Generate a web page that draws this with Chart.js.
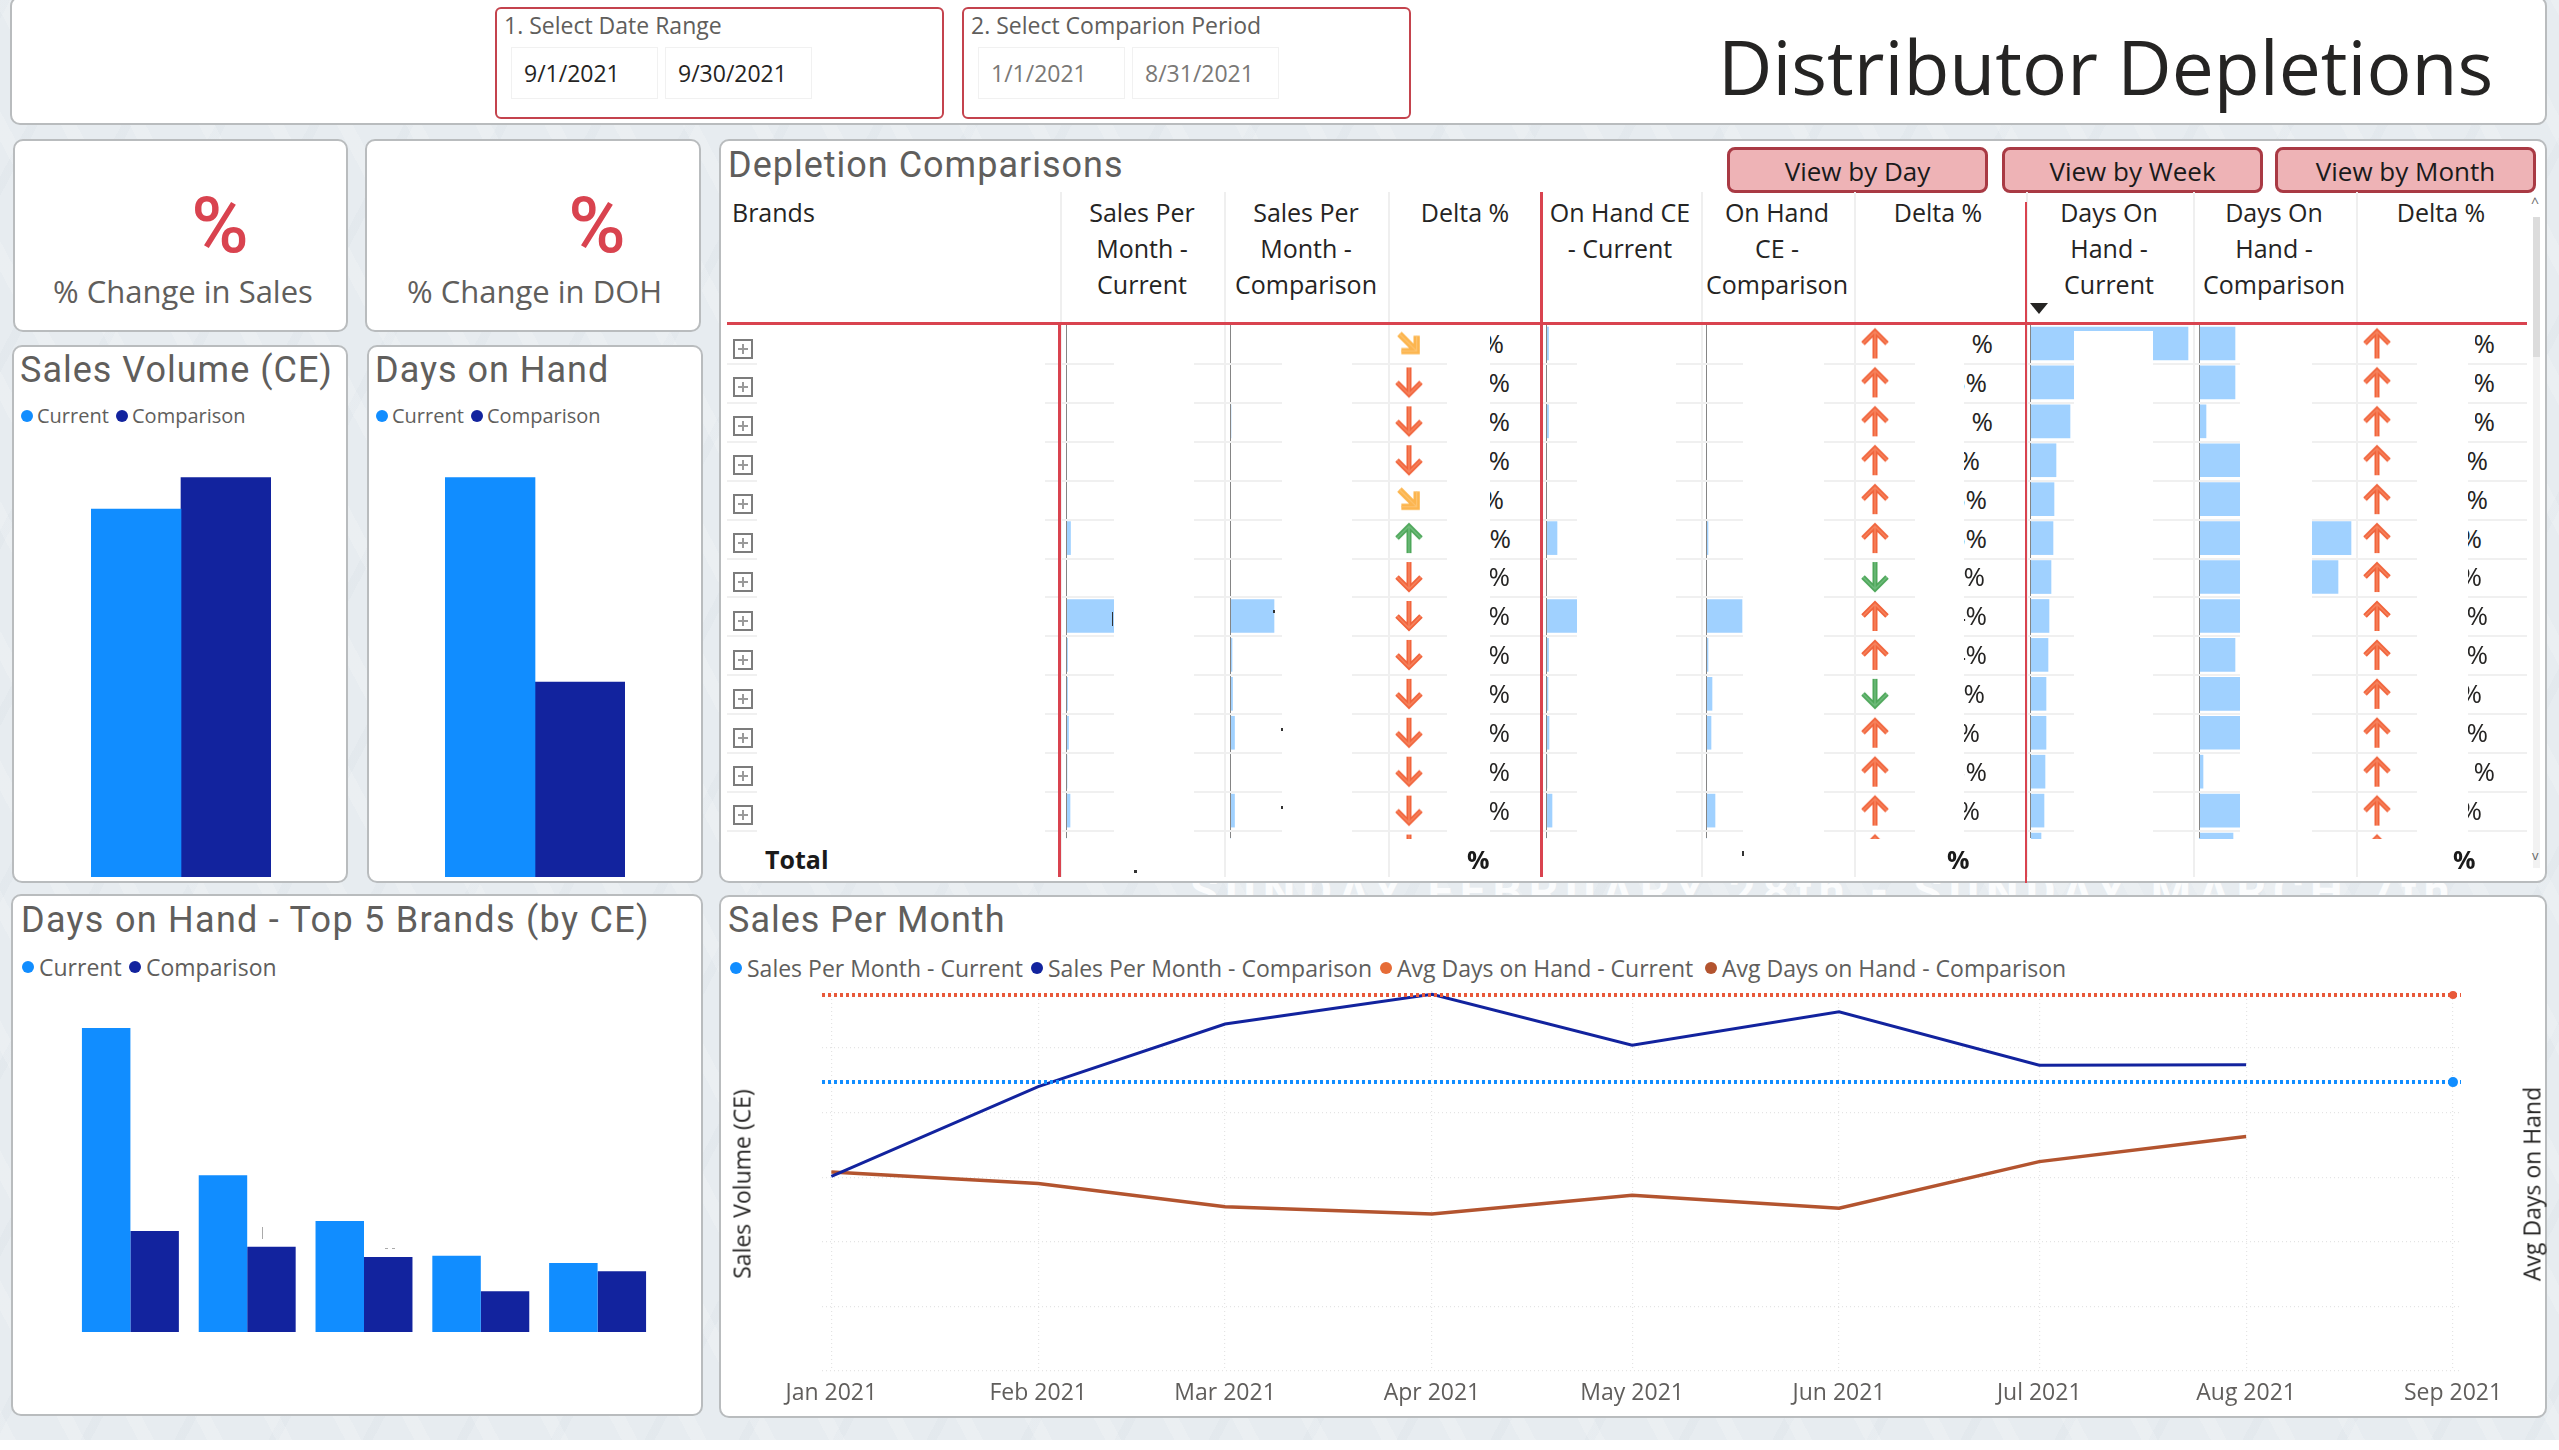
<!DOCTYPE html>
<html><head><meta charset="utf-8">
<script src="https://cdn.jsdelivr.net/npm/chart.js@4"></script>
<style>
html,body{margin:0;padding:0;background:#fff;}
#page{position:relative;width:2559px;height:1450px;overflow:hidden;font-family:"Open Sans",sans-serif;color:#252423;}
#bg{position:absolute;left:0;top:0;width:2559px;height:1440px;background:
 repeating-linear-gradient(62deg,rgba(255,255,255,.16) 0 14px,rgba(255,255,255,0) 14px 61px),
 repeating-linear-gradient(118deg,rgba(200,210,218,.12) 0 9px,rgba(255,255,255,0) 9px 83px),#e7ecf0;}
.abs{position:absolute;}
.card{position:absolute;background:#fff;border:2px solid #b9bcbe;border-radius:10px;box-sizing:border-box;}
.title{position:absolute;font-family:"Roboto",sans-serif;color:#605e5c;white-space:nowrap;letter-spacing:1px;line-height:1;}
.t{position:absolute;white-space:nowrap;line-height:1;}
.hdr{position:absolute;text-align:center;font-size:25px;line-height:36px;color:#252423;}
.dot{position:absolute;width:12px;height:12px;border-radius:50%;}
.vl{position:absolute;}
.btn{position:absolute;background:#eeb3b6;border:3px solid #a93a44;border-radius:8px;box-sizing:border-box;text-align:center;font-size:26px;color:#1a1a1a;}
.date{position:absolute;border:1.5px solid #f1f1f1;box-sizing:border-box;font-size:23px;}
.exp{position:absolute;width:20px;height:20px;border:2px solid #7c7c7c;box-sizing:border-box;}
.exp:before{content:"";position:absolute;left:3px;right:3px;top:7px;height:2px;background:#9a9a9a;}
.exp:after{content:"";position:absolute;top:3px;bottom:3px;left:7px;width:2px;background:#9a9a9a;}
.wrap{position:absolute;overflow:hidden;}
.wrap canvas{position:absolute;left:0;top:0;}
.pct{position:absolute;overflow:hidden;font-size:26px;line-height:34px;height:34px;white-space:nowrap;}
.pct span{position:absolute;right:0;top:0;}
</style></head>
<body><div id="page"><div id="bg"></div>
<div class="t" id="ghost" style="left:1190px;top:868px;font-family:Roboto,sans-serif;font-weight:700;font-size:46px;letter-spacing:7px;color:#fbfcfd;">SUNDAY FEBRUARY 28th - SUNDAY MARCH 7th</div>
</div>
<script>
// ---------- data ----------
const volumeLabels = ["Sales Volume"];
const volumeCurrent = [368];
const volumeComparison = [399.5];
const dohCurrent = [399.5];
const dohComparison = [195];
const top5Brands = ["Brand 1","Brand 2","Brand 3","Brand 4","Brand 5"];
const top5Current = [85.0,43.8,31.0,21.3,19.3];
const top5Comparison = [28.2,23.8,21.0,11.4,17.0];
const monthLabels = ["Jan 2021","Feb 2021","Mar 2021","Apr 2021","May 2021","Jun 2021","Jul 2021","Aug 2021","Sep 2021"];
const monthDays = [0,31,59,90,120,151,181,212,243];
const salesComparison = [30.1,44.0,53.7,58.3,50.4,55.6,47.3,47.4];
const dohAvgComparison = [15.4,14.5,12.7,12.15,13.6,12.6,16.2,18.15];
const salesCurrentFlat = 44.7;
const dohAvgCurrentFlat = 29.1;
// table databars (14th row is cut by the total row)
const rowsIdx = [0,1,2,3,4,5,6,7,8,9,10,11,12,13];
const barSalesCur = [0,0,0,0,0,4.5,0,60,1.5,1.5,2.5,1,4,0];
const barSalesCmp = [0,0,1,0,0,0,0,44,2,2.5,4.5,0.5,4.5,0];
const barHandCur  = [2.5,0,2.5,0,0,11,0,31,2.5,2,3,1,6,0];
const barHandCmp  = [0,0,0,0.7,0,2,0.7,36,2,6,5,0.7,9,0];
const barDohCur   = [157,74,39,25,23,22,20,18,17,15,15,14,13,10];
const barDohCmp   = [36,36,7,60,60,152,139,60,36,60,60,4,60,34];
// arrows: d=down red, u=up red, s=slant amber, U=up green, D=down green
const arrowSales = ["s","d","d","d","s","U","d","d","d","d","d","d","d","d"];
const arrowHand  = ["u","u","u","u","u","u","D","u","u","D","u","u","u","u"];
const arrowDoh   = ["u","u","u","u","u","u","u","u","u","u","u","u","u","u"];
const pctSales = ["%","%","%","%","%","3%","%","%","%","%","%","%","%"];
const pctHand  = ["%","3%","%","%","5%","5%","%","4%","4%","0%","%","5%","%"];
const pctDoh   = ["4%","4%","0%","%","%","%","%","%","%","%","0%","%","%"];
const headers = ["Sales Per<br>Month -<br>Current","Sales Per<br>Month -<br>Comparison","Delta %","On Hand CE<br>- Current","On Hand<br>CE -<br>Comparison","Delta %","Days On<br>Hand -<br>Current","Days On<br>Hand -<br>Comparison","Delta %"];

// ---------- colours ----------
const BLUE="#118dff",NAVY="#12239e",ORANGE="#e66c37",BROWN="#b3542f",RED="#d9434f",GREY="#605e5c",BAR="#a0d1ff";

// ---------- helpers ----------
const page=document.getElementById('page');
function el(cls,css,html){const d=document.createElement('div');d.className=cls;d.style.cssText=css;if(html!==undefined)d.innerHTML=html;page.appendChild(d);return d;}
function card(x,y,x2,y2){return el('card',`left:${x}px;top:${y}px;width:${x2-x}px;height:${y2-y}px;`);}
function rect(x,y,w,h,c){return el('vl',`left:${x}px;top:${y}px;width:${w}px;height:${h}px;background:${c};`);}
function text(x,y,s,size,color,extra){return el('t',`left:${x}px;top:${y-size/2}px;font-size:${size}px;color:${color};${extra||''}`,s);}
function title(x,y,s,size,extra){return el('title',`left:${x}px;top:${y-size/2}px;font-size:${size}px;${extra||''}`,s);}
function legend(y,items,size){items.forEach(([dx,tx,s,c])=>{el('dot',`left:${dx-6}px;top:${y-6}px;background:${c};`);text(tx,y,s,size,GREY);});}
function canvas(x,y,w,h,parent){const host=parent||page;const c=document.createElement('canvas');c.width=w;c.height=h;
  if(!parent){c.style.cssText=`position:absolute;left:${x}px;top:${y}px;width:${w}px;height:${h}px;`;}
  else{c.style.cssText=`width:${w}px;height:${h}px;`;}
  host.appendChild(c);return c;}
const noAnim={animation:false,responsive:false,devicePixelRatio:1,plugins:{legend:{display:false},tooltip:{enabled:false}}};

// ---------- cards ----------
card(10,-4,2547,125);
card(13,139,348,332);card(365,139,701,332);
card(12,345,348,883);card(367,345,703,883);
card(11,894,703,1416);
card(719,139,2547,883);
card(719,895,2547,1418);

// ---------- top strip ----------
function slicer(x,x2,label,d1,d2,col){
  el('abs',`left:${x}px;top:7px;width:${x2-x}px;height:112px;border:2px solid #c4434d;border-radius:6px;box-sizing:border-box;`);
  text(x+9,25,label,23,GREY);
  el('date',`left:${x+16}px;top:47px;width:147px;height:52px;line-height:50px;padding-left:12px;color:${col};`,d1);
  el('date',`left:${x+170}px;top:47px;width:147px;height:52px;line-height:50px;padding-left:12px;color:${col};`,d2);
}
slicer(495,944,"1. Select Date Range","9/1/2021","9/30/2021","#252423");
slicer(962,1411,"2. Select Comparion Period","1/1/2021","8/31/2021","#7a7876");
text(1718,66,"Distributor Depletions",75,"#252423");

// ---------- KPI cards ----------
text(0,226,"%",78,RED,"width:440px;text-align:center;font-family:Roboto,sans-serif;font-weight:500;");
text(372,226,"%",78,RED,"width:450px;text-align:center;font-family:Roboto,sans-serif;font-weight:500;");
text(53,291,"% Change in Sales",31,GREY);
text(407,291,"% Change in DOH",31,GREY);

// ---------- Sales volume / DOH ----------
title(20,370,"Sales Volume (CE)",36);
title(375,370,"Days on Hand",36);
legend(416,[[27,37,"Current",BLUE],[122,132,"Comparison",NAVY]],20);
legend(416,[[382,392,"Current",BLUE],[477,487,"Comparison",NAVY]],20);
function groupBars(x,y,w,h,labels,cur,cmp,max,barPct,catPct){
  new Chart(canvas(x,y,w,h),{type:'bar',data:{labels,datasets:[
    {data:cur,backgroundColor:BLUE,barPercentage:barPct,categoryPercentage:catPct},
    {data:cmp,backgroundColor:NAVY,barPercentage:barPct,categoryPercentage:catPct}]},
    options:{...noAnim,layout:{padding:0},scales:{
      x:{display:false,offset:true},y:{display:false,min:0,max:max}}}});
}
groupBars(91,477,180,400,volumeLabels,volumeCurrent,volumeComparison,400,1,1);
groupBars(445,477,180,400,volumeLabels,dohCurrent,dohComparison,400,1,1);

// ---------- Top 5 ----------
title(21,920,"Days on Hand - Top 5 Brands (by CE)",36,"letter-spacing:1.28px;");
legend(967,[[28,39,"Current",BLUE],[135,146,"Comparison",NAVY]],23);
groupBars(72,1019,584,313,top5Brands,top5Current,top5Comparison,87.5,1,0.83);

// ---------- Table ----------
title(728,165,"Depletion Comparisons",36);
[[1727,"View by Day"],[2002,"View by Week"],[2275,"View by Month"]].forEach(([x,s])=>el('btn',`left:${x}px;top:147px;width:261px;height:46px;line-height:42px;`,s));
text(732,212,"Brands",25,"#252423");
const hdrCentres=[1142,1306,1465,1620,1777,1938,2109,2274,2441];
headers.forEach((h,i)=>el('hdr',`left:${hdrCentres[i]-90}px;top:194px;width:180px;`,h));
// light column separators
[1060,1224,1388,1541,1701,1854,2026,2193,2356].forEach(x=>rect(x,192,1.5,685,"#efefef"));

const ROW=38.9;
// databars
const barCols=[[1066,220,barSalesCur],[1230,160,barSalesCmp],[1546,160,barHandCur],[1706,160,barHandCmp],[2030.5,166,barDohCur],[2199,220,barDohCmp]];
barCols.forEach(([x,w,vals])=>{
  const wrap=el('wrap',`left:${x}px;top:323.5px;width:${w}px;height:515px;`);
  new Chart(canvas(0,0,w,Math.round(ROW*14),wrap),{type:'bar',data:{labels:rowsIdx,datasets:[{data:vals,backgroundColor:BAR,barThickness:33}]},
    options:{...noAnim,indexAxis:'y',layout:{padding:0},scales:{x:{display:false,min:0,max:w},y:{display:false}}}});
});
// axis lines in the data bars
[1066,1230,1546,1706,2030.5,2199].forEach(x=>rect(x-0.5,323,1,515,"#858585"));
// redaction blocks hide the values
[[1114,80],[1282,70],[1577,99],[1743,81],[2074,79],[2240,72]].forEach(([x,w])=>rect(x,331,w,507,"#fff"));
// row separators
const segs=[[727,757],[1045,1114],[1194,1282],[1352,1447],[1490,1577],[1676,1743],[1824,1915],[1964,2074],[2153,2240],[2312,2417],[2468,2527]];
for(let r=0;r<13;r++){const y=363+r*ROW;segs.forEach(([a,b])=>rect(a,y,b-a,2,"#f0f0f0"));
  el('exp',`left:733px;top:${338.5+r*ROW}px;`);}
// arrows
function arrowCanvas(kind){
  const c=document.createElement('canvas');c.width=34;c.height=34;const g=c.getContext('2d');
  const col=(kind==='U'||kind==='D')?"#4ea75a":(kind==='s'?"#fcb54e":"#f1643c");
  const light=(kind==='U'||kind==='D')?"#6fbb7b":(kind==='s'?"#fcc26e":"#f6825c");
  g.translate(17,17);
  if(kind==='d'||kind==='D')g.rotate(Math.PI);
  if(kind==='s'){g.rotate(Math.PI*0.75);g.scale(0.9,0.9);}
  g.lineCap='butt';g.lineJoin='miter';g.miterLimit=10;
  const draw=()=>{g.beginPath();g.moveTo(-12,0);g.lineTo(0,-12);g.lineTo(12,0);g.moveTo(0,-12);g.lineTo(0,15);g.stroke();};
  g.strokeStyle=col;g.lineWidth=kind==='s'?7:5;draw();
  g.strokeStyle=light;g.lineWidth=1.5;draw();
  return c;
}
const arrowImgs={};["u","d","s","U","D"].forEach(k=>arrowImgs[k]=arrowCanvas(k));
[[1409,arrowSales],[1875,arrowHand],[2377,arrowDoh]].forEach(([cx,list])=>{
  const wrap=el('wrap',`left:${cx-20}px;top:323.5px;width:40px;height:515px;`);
  new Chart(canvas(0,0,40,Math.round(ROW*14),wrap),{type:'scatter',data:{datasets:[{
      data:list.map((_,i)=>({x:0,y:i})),
      pointStyle:list.map(k=>arrowImgs[k]),pointRadius:17,pointHoverRadius:17}]},
    options:{...noAnim,layout:{padding:0,autoPadding:false},clip:false,scales:{x:{display:false,min:-1,max:1},y:{display:false,reverse:true,min:-0.5,max:13.5}}}});
});
// delta text
function pctCol(list,right,clip){list.forEach((s,i)=>{
  const r=right[i];const l=clip[i];
  el('pct',`left:${l}px;top:${326+i*ROW}px;width:${r-l}px;`,`<span>${s}</span>`);});}
const rep=(v,n)=>Array(n).fill(v);
pctCol(pctSales,[1504,1510,1510,1510,1504,1511,1510,1510,1510,1510,1510,1510,1510],rep(1490,13));
pctCol(pctHand,[1993,1987,1993,1980,1987,1987,1985,1987,1987,1985,1980,1987,1980],rep(1964,13));
pctCol(pctDoh,[2495,2495,2495,2488,2488,2482,2482,2488,2488,2482,2488,2495,2482],[2475,2475,2475,2468,2468,2468,2468,2468,2468,2468,2468,2475,2468]);
// red rules
rect(727,322,1800,3,RED);
rect(1058,323,3,554,RED);
rect(1540,192,2.5,685,RED);
rect(2025,202,2,681,RED);
// sort caret
el('abs',`left:2030px;top:303px;width:0;height:0;border-left:9px solid transparent;border-right:9px solid transparent;border-top:11px solid #252423;`);
// total row
text(765,859,"Total",25,"#1a1a1a","font-weight:700;");
[1467,1947,2453].forEach(x=>text(x,859,"%",25,"#1a1a1a","font-weight:700;"));
// leftover specks of the hidden values
[[1112,612,1,14],[1273,610,2,3],[1281,728,2,3],[1281,806,2,3],[1134,870,3,3],[1742,851,2,5]].forEach(([x,y,w,h])=>rect(x,y,w,h,"#333"));
[[262,1227,1,12],[385,1248,3,1],[392,1248,3,1]].forEach(([x,y,w,h])=>rect(x,y,w,h,"#aaa"));
// scrollbar
rect(2533,217,7,651,"#f2f2f2");rect(2533,217,7,140,"#dcdcdc");
text(2531,203,"^",14,"#666");text(2532,855,"v",13,"#666");

// ---------- Line chart ----------
title(728,920,"Sales Per Month",36);
legend(968,[[736,747,"Sales Per Month - Current",BLUE],[1037,1048,"Sales Per Month - Comparison",NAVY],[1386,1397,"Avg Days on Hand - Current",ORANGE],[1711,1722,"Avg Days on Hand - Comparison",BROWN]],23);
const xMin=-1.4,xMax=244.2;
const flatEnds=[xMin,243,xMax];
new Chart(canvas(719,984,1828,433),{type:'line',data:{datasets:[
  {label:"Sales Per Month - Current",yAxisID:'y',data:flatEnds.map(x=>({x,y:salesCurrentFlat})),borderColor:BLUE,borderWidth:4,borderDash:[3,3],pointRadius:[0,5,0],pointBackgroundColor:BLUE,pointBorderWidth:0,clip:false},
  {label:"Avg Days on Hand - Current",yAxisID:'y1',data:flatEnds.map(x=>({x,y:dohAvgCurrentFlat})),borderColor:"#e8593a",borderWidth:4,borderDash:[3,3],pointRadius:[0,4,0],pointBackgroundColor:"#e8593a",pointBorderWidth:0,clip:false},
  {label:"Sales Per Month - Comparison",yAxisID:'y',data:salesComparison.map((y,i)=>({x:monthDays[i],y})),borderColor:NAVY,borderWidth:3,pointRadius:0,tension:0,clip:false},
  {label:"Avg Days on Hand - Comparison",yAxisID:'y1',data:dohAvgComparison.map((y,i)=>({x:monthDays[i],y})),borderColor:BROWN,borderWidth:3.5,pointRadius:0,tension:0,clip:false}
 ]},
 options:{...noAnim,layout:{padding:{left:103,right:86,top:7,bottom:0},autoPadding:false},scales:{
  x:{type:'linear',min:xMin,max:xMax,
     afterBuildTicks:s=>{s.ticks=monthDays.map(v=>({value:v}));},
     afterFit:s=>{s.height=46;},
     ticks:{autoSkip:false,maxRotation:0,padding:9,color:GREY,font:{family:'"Open Sans"',size:23},callback:(v)=>monthLabels[monthDays.indexOf(v)]},
     grid:{color:"#e4e4e4",lineWidth:1.2,drawTicks:false},border:{display:false,dash:[1,3]}},
  y:{position:'left',min:0,max:58.8,afterFit:s=>{s.width=0;},
     afterBuildTicks:s=>{s.ticks=[0,10,20,30,40,50].map(v=>({value:v}));},
     ticks:{display:false},grid:{color:"#e4e4e4",lineWidth:1.2,drawTicks:false},border:{display:false,dash:[1,3]}},
  y1:{position:'right',min:0,max:29.4,afterFit:s=>{s.width=0;},ticks:{display:false},grid:{display:false},border:{display:false}}
 }}});
el('t',`left:742px;top:1184px;font-size:23px;color:#252423;transform:translate(-50%,-50%) rotate(-90deg);`,"Sales Volume (CE)");
el('t',`left:2532px;top:1184px;font-size:23px;color:#252423;transform:translate(-50%,-50%) rotate(-90deg);`,"Avg Days on Hand");
</script>
</body></html>
